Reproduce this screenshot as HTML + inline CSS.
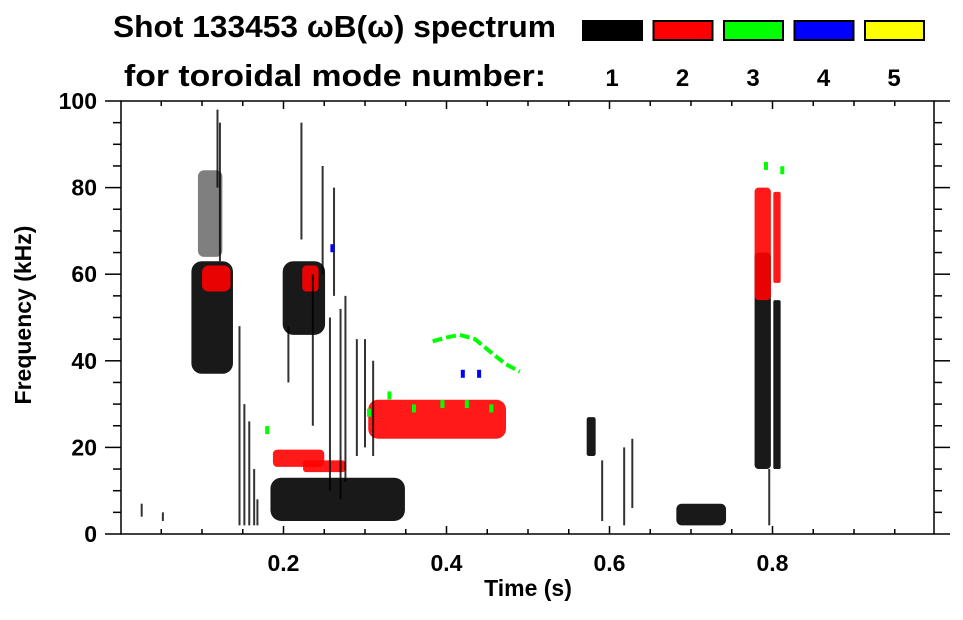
<!DOCTYPE html>
<html><head><meta charset="utf-8">
<style>
html,body{margin:0;padding:0;background:#fff;}
body{width:963px;height:615px;overflow:hidden;font-family:"Liberation Sans",Arial,sans-serif;}
svg text{font-family:"Liberation Sans",Arial,sans-serif;font-weight:bold;fill:#000;}
</style></head><body>
<svg id="chart" width="963" height="615" viewBox="0 0 963 615" xmlns="http://www.w3.org/2000/svg">
  <text x="113" y="37" font-size="31" textLength="443" lengthAdjust="spacingAndGlyphs">Shot 133453 ωB(ω) spectrum</text>
  <text x="124" y="86" font-size="31" textLength="422" lengthAdjust="spacingAndGlyphs">for toroidal mode number:</text>
  <g id="legend"></g>
  <g id="marks"></g>
  <g id="axes"></g>
  <text x="528" y="596" font-size="23" text-anchor="middle">Time (s)</text>
  <text x="0" y="0" font-size="23" text-anchor="middle" transform="translate(31,315) rotate(-90)">Frequency (kHz)</text>
</svg>
<script>
// ---- data ----
const modeNumbers = [1, 2, 3, 4, 5];
const modeColors = ["#000000", "#ff0000", "#00ff00", "#0000ff", "#ffff00"];
const xTickLabels = ["0.2", "0.4", "0.6", "0.8"];
const xTickValues = [0.2, 0.4, 0.6, 0.8];
const yTickValues = [0, 20, 40, 60, 80, 100];
// blobs: time range (s), freq range (kHz), mode
const blobT0 = [0.087, 0.184, 0.199, 0.572, 0.682, 0.778, 0.801, 0.304, 0.187, 0.224, 0.778, 0.801, 0.100, 0.223, 0.095];
const blobT1 = [0.138, 0.349, 0.251, 0.583, 0.743, 0.798, 0.810, 0.473, 0.250, 0.276, 0.798, 0.810, 0.135, 0.243, 0.125];
const blobF0 = [37, 3, 46, 18, 2, 15, 15, 22, 15.5, 14.3, 54, 58, 56, 56, 64];
const blobF1 = [63, 13, 63, 27, 7, 65, 54, 31, 19.5, 17, 80, 79, 62, 62, 84];
const blobMode = [1, 1, 1, 1, 1, 1, 1, 2, 2, 2, 2, 2, 2, 2, 1];
// thin streaks
const streakT = [0.026, 0.052, 0.122, 0.119, 0.146, 0.152, 0.158, 0.164, 0.168, 0.222, 0.248, 0.262, 0.257, 0.270, 0.276, 0.206, 0.618, 0.628, 0.591, 0.796, 0.236, 0.290, 0.300, 0.310];
const streakF0 = [4, 3, 63, 80, 2, 2, 2, 2, 2, 68, 60, 55, 10, 8, 12, 35, 2, 6, 3, 2, 25, 18, 20, 18];
const streakF1 = [7, 5, 95, 98, 48, 30, 26, 15, 8, 95, 85, 80, 50, 52, 55, 48, 20, 22, 17, 15, 60, 45, 45, 40];
const streakMode = [1,1,1,1,1,1,1,1,1,1,1,1,1,1,1,1,1,1,1,1,1,1,1,1];
// mode-3 arc (green)
const arcT = [0.383, 0.398, 0.416, 0.435, 0.453, 0.472, 0.490];
const arcF = [44.5, 45.3, 46, 45, 42.2, 39.3, 37.5];
// scattered mode-3 / mode-4 dots
const dotT = [0.305, 0.330, 0.360, 0.395, 0.425, 0.455, 0.792, 0.812, 0.420, 0.440, 0.180, 0.260];
const dotF = [28, 32, 29, 30, 30, 29, 85, 84, 37, 37, 24, 66];
const dotMode = [3, 3, 3, 3, 3, 3, 3, 3, 4, 4, 3, 4];

// ---- scales ----
const X0 = 121, X1 = 934, Y0 = 534, Y1 = 101;
function xs(t){ return 120.5 + 815 * t; }
function ys(f){ return Y0 - (Y0 - Y1) * f / 100; }
const NS = "http://www.w3.org/2000/svg";
function mk(tag, attrs, parent){ const e = document.createElementNS(NS, tag); for (const k in attrs) e.setAttribute(k, attrs[k]); parent.appendChild(e); return e; }

const marks = document.getElementById('marks');
for (let i = 0; i < blobT0.length; i++) {
  const x = xs(blobT0[i]), w = xs(blobT1[i]) - x, y = ys(blobF1[i]), h = ys(blobF0[i]) - y;
  const r = mk('rect', {x: x, y: y, width: w, height: h, rx: Math.min(w, h) * 0.25, fill: modeColors[blobMode[i] - 1], opacity: (i === 14 ? 0.5 : 0.9)}, marks);
  
  
}
for (let i = 0; i < streakT.length; i++) {
  const l = mk('line', {x1: xs(streakT[i]), x2: xs(streakT[i]), y1: ys(streakF0[i]), y2: ys(streakF1[i]), stroke: modeColors[streakMode[i] - 1], 'stroke-width': 2, opacity: 0.8}, marks);
  
  
}
let pts = arcT.map((t, i) => xs(t) + ',' + ys(arcF[i])).join(' ');
const arc = mk('polyline', {points: pts, fill: 'none', stroke: modeColors[2], 'stroke-width': 4, 'stroke-dasharray': '10 4'}, marks);


for (let i = 0; i < dotT.length; i++) {
  const d = mk('rect', {x: xs(dotT[i]) - 2, y: ys(dotF[i]) - 4, width: 4, height: 8, fill: modeColors[dotMode[i] - 1]}, marks);
  
  
}

// ---- legend ----
const legend = document.getElementById('legend');
for (let i = 0; i < modeNumbers.length; i++) {
  const lx = 582 + i * 70.5;
  const b = mk('rect', {x: lx + 1, y: 21, width: 59, height: 19, fill: modeColors[i], stroke: '#000', 'stroke-width': 2}, legend);
  
  
  const t = mk('text', {x: lx + 30, y: 86, 'font-size': 24, 'text-anchor': 'middle'}, legend);
  t.textContent = modeNumbers[i];
  
  
}

// ---- axes ----
const axes = document.getElementById('axes');
const frame = mk('rect', {x: X0, y: Y1, width: X1 - X0, height: Y0 - Y1, fill: 'none', stroke: '#000', 'stroke-width': 1.5}, axes);


for (let f = 0; f <= 100; f += 5) {
  const major = f % 20 === 0, len = major ? 16 : 8, y = ys(f);
  mk('line', {x1: X0 - len, x2: X0, y1: y, y2: y, stroke: '#000', 'stroke-width': 1.5}, axes);
  mk('line', {x1: X1, x2: X1 + len, y1: y, y2: y, stroke: '#000', 'stroke-width': 1.5}, axes);
}
for (let i = 0; i < yTickValues.length; i++) {
  const t = mk('text', {x: 97, y: ys(yTickValues[i]) + 8, 'font-size': 23, 'text-anchor': 'end'}, axes);
  t.textContent = yTickValues[i];
  
  
}
for (let k = 1; k < 20; k++) {
  const t = k * 0.05, major = k % 4 === 0, len = major ? 8 : 5, x = xs(t);
  mk('line', {x1: x, x2: x, y1: Y0, y2: Y0 - len, stroke: '#000', 'stroke-width': 1.5}, axes);
  mk('line', {x1: x, x2: x, y1: Y1, y2: Y1 + len, stroke: '#000', 'stroke-width': 1.5}, axes);
}
for (let i = 0; i < xTickValues.length; i++) {
  const t = mk('text', {x: xs(xTickValues[i]), y: 571, 'font-size': 23, 'text-anchor': 'middle'}, axes);
  t.textContent = xTickLabels[i];
  
  
}
</script>
</body></html>
